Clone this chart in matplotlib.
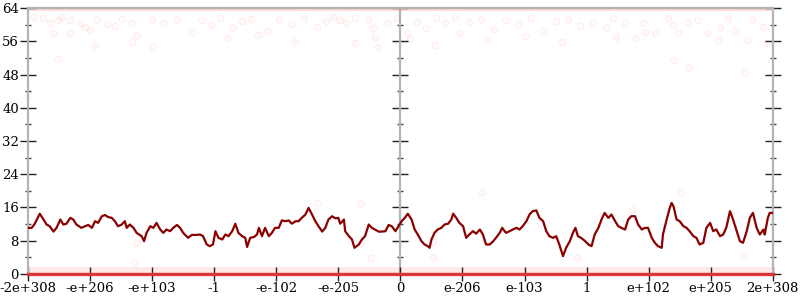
import matplotlib
matplotlib.use("Agg")
from matplotlib import pyplot as plt
import numpy as np

# x positions are in tick-slot units (0 = -2e+308 ... 6 = 0 ... 12 = 2e+308)
tick_labels = ['-2e+308', '-e+206', '-e+103', '-1', '-e-102', '-e-205', '0',
               'e-206', 'e-103', '1', 'e+102', 'e+205', '2e+308']
y_ticks = [0, 8, 16, 24, 32, 40, 48, 56, 64]

line_x = [0.00, 0.06, 0.11, 0.19, 0.25, 0.30, 0.35, 0.41, 0.46, 0.52, 0.57, 0.62, 0.68, 0.73,
          0.78, 0.86, 0.92, 0.97, 1.03, 1.08, 1.13, 1.19, 1.24, 1.29, 1.35, 1.40, 1.45, 1.51,
          1.56, 1.59, 1.64, 1.70, 1.75, 1.83, 1.87, 1.91, 1.97, 2.02, 2.07, 2.13, 2.18, 2.23,
          2.29, 2.34, 2.40, 2.45, 2.50, 2.58, 2.64, 2.72, 2.77, 2.82, 2.88, 2.93, 2.98,
          3.02, 3.07, 3.13, 3.18, 3.23, 3.29, 3.34, 3.39, 3.45, 3.50, 3.53, 3.58, 3.64, 3.69,
          3.72, 3.77, 3.82, 3.88, 3.93, 3.98, 4.04, 4.09, 4.15, 4.20, 4.25, 4.31, 4.36, 4.41,
          4.47, 4.52, 4.57, 4.63, 4.68, 4.74, 4.79, 4.84, 4.90, 4.95, 5.00, 5.03, 5.09, 5.11,
          5.17, 5.22, 5.26, 5.33, 5.38, 5.43, 5.49, 5.54, 5.59, 5.65, 5.70, 5.76, 5.81, 5.86,
          5.92, 5.97, 6.02, 6.07, 6.12, 6.18, 6.23, 6.28, 6.34, 6.39, 6.44, 6.47, 6.50, 6.55,
          6.60, 6.66, 6.71, 6.77, 6.82, 6.85, 6.90, 6.95, 7.01, 7.06, 7.11, 7.17, 7.22, 7.28,
          7.33, 7.38, 7.44, 7.49, 7.54, 7.60, 7.64, 7.70, 7.76, 7.81, 7.87, 7.92, 7.97, 8.03,
          8.08, 8.13, 8.19, 8.24, 8.30, 8.35, 8.40, 8.46, 8.51, 8.56, 8.62, 8.67, 8.73, 8.78,
          8.82, 8.86, 8.91, 8.97, 9.03, 9.08, 9.13, 9.19, 9.24, 9.29, 9.35, 9.40, 9.46, 9.51,
          9.56, 9.62, 9.67, 9.72, 9.78, 9.83, 9.89, 9.94, 9.99, 10.05, 10.10, 10.15, 10.21,
          10.23, 10.29, 10.34, 10.37, 10.40, 10.45, 10.50, 10.56, 10.61, 10.66, 10.72, 10.77,
          10.82, 10.88, 10.93, 10.99, 11.04, 11.09, 11.15, 11.20, 11.25, 11.31, 11.36, 11.42,
          11.47, 11.52, 11.58, 11.63, 11.68, 11.74, 11.79, 11.85, 11.87, 11.92, 11.95, 12.00]
line_y = [11.1, 11.1, 12.1, 14.5, 13.1, 11.9, 11.5, 10.2, 11.1, 13.1, 11.9, 12.1, 13.5, 13.1,
          11.9, 11.1, 11.5, 11.8, 11.1, 12.7, 12.3, 13.9, 14.2, 13.7, 13.5, 12.7, 11.5, 11.9,
          12.7, 11.1, 11.9, 11.1, 9.9, 9.1, 7.9, 9.9, 11.5, 11.1, 12.3, 10.7, 9.9, 10.7,
          10.3, 11.1, 11.8, 11.1, 9.9, 8.7, 9.4, 9.4, 9.5, 9.1, 7.1, 6.7, 7.1,
          10.3, 8.7, 8.3, 9.5, 9.1, 10.3, 12.1, 9.9, 9.1, 8.7, 6.5, 8.7, 8.9, 9.5,
          11.1, 9.1, 11.1, 9.1, 9.9, 11.1, 11.1, 12.9, 12.7, 12.9, 12.1, 12.7, 12.7, 13.5,
          14.3, 15.9, 14.5, 12.7, 11.5, 10.2, 11.1, 13.1, 13.9, 13.4, 13.5, 12.1, 13.1, 10.3,
          9.1, 8.3, 6.3, 7.1, 8.3, 9.1, 11.9, 11.1, 10.7, 10.2, 10.2, 10.3, 11.8, 11.5,
          10.3, 11.5, 12.7, 13.5, 14.5, 13.1, 10.7, 9.5, 7.9, 7.1, 6.7, 6.3, 8.3, 9.9,
          10.7, 11.1, 11.9, 12.1, 13.1, 14.5, 13.5, 12.3, 11.5, 8.7, 9.5, 10.3, 9.7, 10.7,
          9.5, 7.1, 7.1, 7.8, 8.7, 9.9, 11.1, 9.9, 10.3, 10.7, 11.1, 10.7, 11.5, 12.7,
          14.3, 15.1, 15.3, 13.5, 12.7, 10.3, 9.1, 8.7, 9.1, 7.1, 4.3, 6.3, 7.9, 9.9,
          11.1, 9.1, 8.7, 8.0, 7.1, 6.7, 9.5, 11.1, 13.1, 14.7, 13.5, 14.3, 12.7, 11.5,
          11.1, 10.7, 13.1, 13.9, 13.9, 11.9, 10.7, 11.1, 11.1, 8.7, 7.5, 6.7, 6.3,
          9.5, 13.1, 15.9, 17.1, 16.3, 13.1, 12.7, 11.5, 11.1, 10.3, 9.1, 8.7,
          7.1, 7.5, 11.1, 12.3, 10.3, 10.7, 9.1, 9.5, 11.1, 15.1, 13.1, 10.3,
          7.9, 7.5, 10.3, 13.5, 14.7, 11.1, 9.5, 10.7, 9.5, 13.5, 14.7, 14.7]

# faint sample points (mostly packed against the 0 and 64 limits)
dots_x = [0.09, 0.24, 0.35, 0.49, 0.54, 0.68, 0.84, 0.92, 1.00, 1.11, 1.27, 1.40, 1.51, 1.67,
          1.75, 1.99, 2.18, 2.40, 2.64, 0.41, 0.68, 1.08, 2.02, 0.49, 1.67, 0.00,
          2.80, 2.95, 3.10, 3.30, 3.45, 3.60, 3.85, 4.05, 4.25, 4.45, 4.65, 4.80, 3.20, 3.70, 4.30,
          4.92, 5.03, 5.13, 5.27, 5.27, 5.48, 5.56, 5.59, 5.64, 5.78, 5.94, 6.10, 6.15, 6.26,
          6.42, 6.56, 6.58, 6.72, 6.96, 6.88,
          7.10, 7.30, 7.50, 7.70, 7.90, 8.10, 8.30, 8.50, 8.70, 8.90, 9.10, 7.40, 8.00, 8.60,
          9.32, 9.43, 9.48, 9.62, 9.78, 9.91, 9.94, 10.10, 10.31, 10.39, 10.41, 10.48, 10.61,
          10.65, 10.80, 10.96, 11.12, 11.15, 11.28, 11.39, 11.55, 11.58, 11.66, 11.84, 11.90,
          1.70, 1.76, 4.66, 5.37, 5.37, 5.52, 6.52, 6.52, 7.32, 8.85, 9.73, 10.52, 11.52]
dots_y = [61.9, 61.5, 60.5, 61.0, 61.8, 61.1, 60.3, 59.5, 58.6, 61.3, 60.2, 59.7, 61.3, 60.3,
          57.5, 61.3, 60.3, 61.0, 57.9, 57.9, 57.9, 55.1, 54.7, 51.7, 55.9, 43.1,
          61.2, 60.0, 61.5, 59.2, 60.8, 61.4, 58.5, 61.0, 60.2, 61.6, 59.4, 60.9, 56.8, 57.6, 55.8,
          61.9, 61.1, 60.3, 61.5, 55.5, 61.1, 59.1, 57.1, 54.7, 60.3, 61.5, 57.9, 56.5, 60.7,
          59.1, 55.1, 61.5, 60.3, 57.9, 61.5,
          60.6, 61.4, 59.0, 61.1, 60.2, 61.6, 58.8, 60.9, 61.3, 59.6, 60.4, 56.2, 57.3, 55.9,
          59.1, 61.5, 57.1, 60.3, 56.7, 60.3, 58.3, 57.9, 61.5, 59.9, 51.4, 58.3, 60.7,
          49.9, 61.1, 57.9, 56.3, 59.1, 61.5, 58.7, 48.7, 56.3, 61.1, 59.5, 55.5,
          2.6, 7.4, 17.0, 17.0, 7.4, 3.8, 3.8, 7.7, 19.7, 3.8, 15.4, 19.7, 4.6]
edge_levels = [0, 64]

plt.rcParams['font.family'] = 'DejaVu Serif'
fig = plt.figure(figsize=(8, 3), dpi=100)
ax = fig.add_axes([0.035, 0.0867, 0.931, 0.8866])

spine_col = '#b4b4b4'
# crowded points on the limits show as red bands
ax.axhline(edge_levels[0], color='#ff3030', alpha=0.10, lw=10, zorder=1)
ax.axhline(edge_levels[0], color='#e02828', alpha=0.9, lw=2.4, zorder=6, clip_on=False)
ax.axhline(edge_levels[1], color='#ff4040', alpha=0.22, lw=4, zorder=1)

ax.scatter(dots_x, dots_y, s=22, facecolor=(1, 0, 0, 0.025), edgecolor=(1, 0, 0, 0.06),
           linewidths=0.8, zorder=2, clip_on=False)
ax.plot(line_x, line_y, color='#8b0000', lw=1.6, zorder=5)

ax.set_xlim(0, 12)
ax.set_ylim(0, 64)
ax.set_xticks(range(len(tick_labels)))
ax.set_xticklabels(tick_labels)
ax.set_yticks(y_ticks)
ax.set_yticks(range(4, 64, 8), minor=True)

for s in ax.spines.values():
    s.set_color(spine_col)
    s.set_linewidth(1.6)

ax.tick_params(axis='both', which='major', direction='inout', length=11, width=1,
               color='#222222', labelsize=9.5, pad=1, right=True)
ax.tick_params(axis='y', which='minor', direction='inout', length=5, width=1,
               color='#444444', right=True)
ax.tick_params(axis='x', which='major', length=10)

# middle vertical axis at x = 0
mid = ax.secondary_yaxis(0.5)
for s in mid.spines.values():
    s.set_color(spine_col)
    s.set_linewidth(1.6)
mid.set_yticks(y_ticks)
mid.set_yticks(range(4, 64, 8), minor=True)
mid.set_yticklabels([])
mid.tick_params(which='major', direction='inout', length=11, width=1, color='#222222',
                labelleft=False, labelright=False)
mid.tick_params(which='minor', direction='inout', length=5, width=1, color='#444444')

fig.savefig('out.png', dpi=100)
